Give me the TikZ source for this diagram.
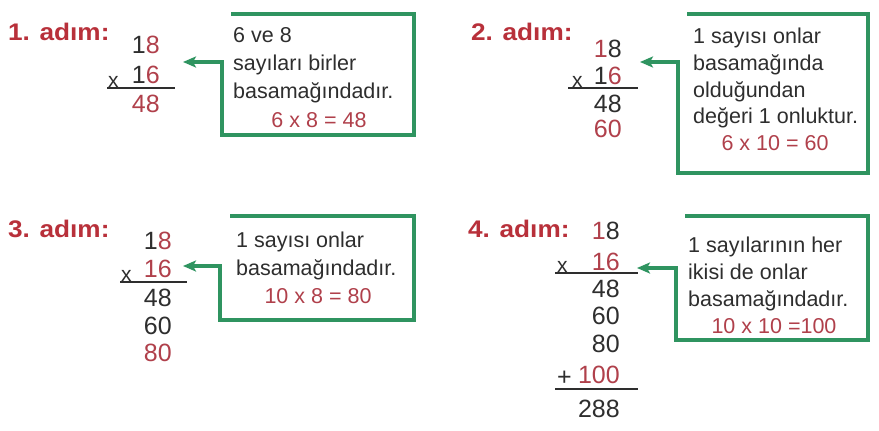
\documentclass[tikz,border=0pt]{standalone}
\usepackage{fontspec}
\usepackage{graphicx}
\setmainfont{Liberation Sans}
\usetikzlibrary{arrows.meta}
\definecolor{txt}{HTML}{2E2E2E}
\definecolor{numred}{HTML}{B0404B}
\definecolor{titlered}{HTML}{B8303A}
\definecolor{boxgreen}{HTML}{2F9460}
\tikzset{
  title/.style={anchor=base west,inner sep=0pt,text=titlered,font=\fontsize{24}{28}\selectfont\bfseries},
  num/.style={anchor=base east,inner sep=0pt,text=txt,font=\fontsize{25}{30}\selectfont},
  sign/.style={anchor=base west,inner sep=0pt,text=txt,font=\fontsize{21}{26}\selectfont},
  btext/.style={anchor=base west,inner sep=0pt,text=txt,font=\fontsize{21.5}{28}\selectfont},
  bres/.style={anchor=base,inner sep=0pt,text=numred,font=\fontsize{21.5}{28}\selectfont},
  gbox/.style={draw=boxgreen,line width=3.2pt,line join=miter,-{Stealth[length=13pt,width=11pt,inset=3pt]}},
  rule/.style={draw=txt,line width=2.6pt}
}
\newcommand{\R}[1]{\textcolor{numred}{#1}}
\newcommand{\T}[1]{\scalebox{1.09}[1]{#1}}
\begin{document}
\begin{tikzpicture}[x=1pt,y=-1pt]
\useasboundingbox[fill=white] (0,0) rectangle (879,431);
% ---------- Step 1 ----------
\node[title] (t1) at (8,40) {\T{1. adım:}};
\node[num] (a1) at (160,53) {1\R{8}};
\node[num] (b1) at (160,83) {1\R{6}};
\node[sign] (x1) at (108,87) {x};
\draw[rule] (107,88) -- (175,88);
\node[num] (c1) at (160,112) {\R{48}};
\node[btext] (p1a) at (233,42) {6 ve 8};
\node[btext] (p1b) at (233,70) {sayıları birler};
\node[btext] (p1c) at (233,98) {basamağındadır.};
\node[bres] (p1d) at (319,127) {6 x 8 = 48};
\coordinate (e1) at (183,62);
\draw[gbox] (231,14) -- (414,14) -- (414,135) -- (222,135) -- (222,62) -- (e1);
% ---------- Step 2 ----------
\node[title] (t2) at (471,40) {\T{2. adım:}};
\node[num] (a2) at (622,57) {\R{1}8};
\node[num] (b2) at (622,84) {1\R{6}};
\node[sign] (x2) at (572,87) {x};
\draw[rule] (568,88) -- (638,88);
\node[num] (c2) at (622,112) {48};
\node[num] (d2) at (622,137) {\R{60}};
\node[btext] (p2a) at (693,43) {1 sayısı onlar};
\node[btext] (p2b) at (693,70) {basamağında};
\node[btext] (p2c) at (693,97) {olduğundan};
\node[btext] (p2d) at (693,123) {değeri 1 onluktur.};
\node[bres] (p2e) at (775,150) {6 x 10 = 60};
\coordinate (e2) at (640,62);
\draw[gbox] (687,14) -- (868,14) -- (868,173) -- (678,173) -- (678,62) -- (e2);
% ---------- Step 3 ----------
\node[title] (t3) at (8,237) {\T{3. adım:}};
\node[num] (a3) at (172,249) {1\R{8}};
\node[num] (b3) at (172,277) {\R{16}};
\node[sign] (x3) at (121,281) {x};
\draw[rule] (120,282) -- (187,282);
\node[num] (c3) at (172,306) {48};
\node[num] (d3) at (172,334) {60};
\node[num] (f3) at (172,361) {\R{80}};
\node[btext] (p3a) at (236,247) {1 sayısı onlar};
\node[btext] (p3b) at (236,275) {basamağındadır.};
\node[bres] (p3c) at (318,303) {10 x 8 = 80};
\coordinate (e3) at (183,266);
\draw[gbox] (230,216) -- (414,216) -- (414,320) -- (220,320) -- (220,266) -- (e3);
% ---------- Step 4 ----------
\node[title] (t4) at (468,237) {\T{4. adım:}};
\node[num] (a4) at (620,239) {\R{1}8};
\node[num] (b4) at (620,270) {\R{16}};
\node[sign] (x4) at (557,272) {x};
\draw[rule] (555,273) -- (638,273);
\node[num] (c4) at (620,297) {48};
\node[num] (d4) at (620,324) {60};
\node[num] (f4) at (620,352) {80};
\node[num] (g4) at (620,383) {\R{100}};
\node[num,anchor=base west] (s4) at (557,385) {+};
\draw[rule] (555,389) -- (638,389);
\node[num] (h4) at (620,417) {288};
\node[btext] (p4a) at (688,252) {1 sayılarının her};
\node[btext] (p4b) at (688,279) {ikisi de onlar};
\node[btext] (p4c) at (688,306) {basamağındadır.};
\node[bres] (p4d) at (774,333) {10 x 10 =100};
\coordinate (e4) at (637,268);
\draw[gbox] (685,216) -- (868,216) -- (868,340) -- (676,340) -- (676,268) -- (e4);
\end{tikzpicture}
\end{document}
